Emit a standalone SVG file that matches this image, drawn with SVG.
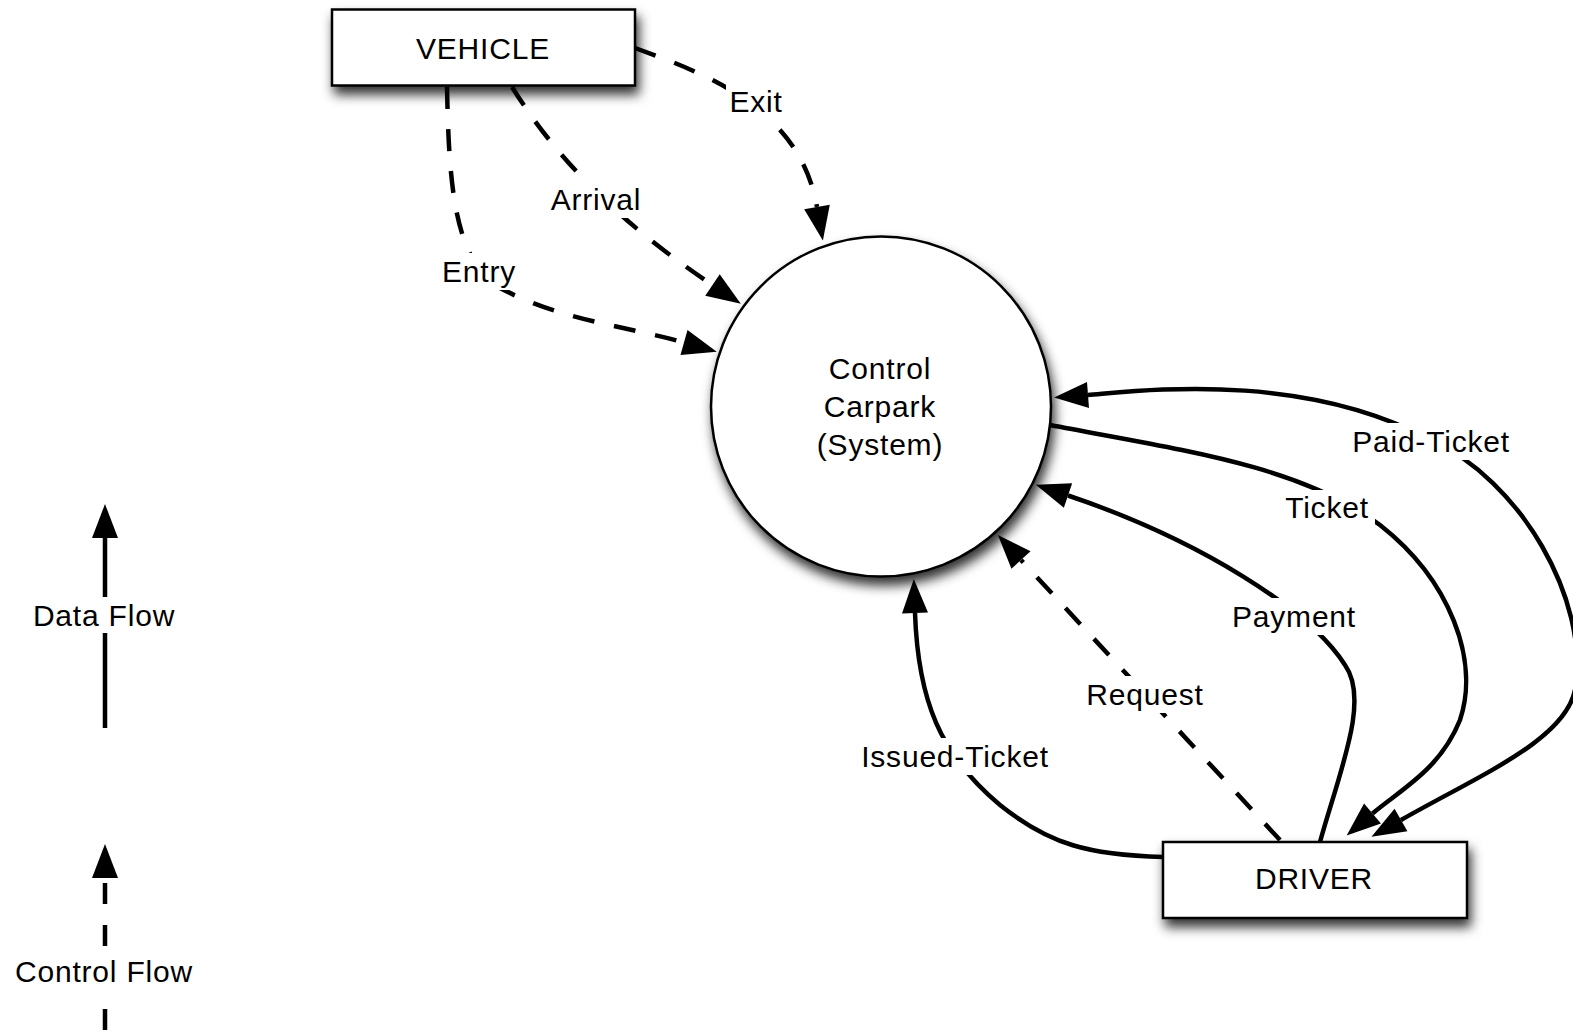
<svg xmlns="http://www.w3.org/2000/svg" width="1573" height="1034" viewBox="0 0 1573 1034">
<style>
  .node { fill: #ffffff; stroke: #000000; stroke-width: 2.5; }
  .t { font-family: "Liberation Sans", Arial, Helvetica, sans-serif; font-size: 30px; letter-spacing: 0.8px; fill: #000000; text-anchor: middle; }
  .flow { fill: none; stroke: #000000; stroke-width: 4.5; }
  .ctrl { stroke-dasharray: 22 20; }
  .data { marker-end: url(#arrow); }
  .bg { fill: #ffffff; stroke: none; }
</style>
<defs>
  <filter id="shadow" x="-20%" y="-20%" width="150%" height="170%">
    <feDropShadow dx="3" dy="8" stdDeviation="6" flood-color="#000000" flood-opacity="0.8"/>
  </filter>
  <marker id="arrow" markerUnits="userSpaceOnUse" markerWidth="36" markerHeight="28" refX="0" refY="13" orient="auto-start-reverse" overflow="visible">
    <path d="M0,0 L34,13 L0,26 Z" fill="#000000"/>
  </marker>
</defs>
<rect x="0" y="0" width="1573" height="1034" fill="#ffffff"/>

<g id="vehicle">
  <rect class="node" x="332" y="9.5" width="303" height="76" filter="url(#shadow)"/>
  <text class="t" x="483" y="59">VEHICLE</text>
</g>

<g id="system">
  <circle class="node" cx="881" cy="406.5" r="170" filter="url(#shadow)"/>
  <text class="t" x="880" y="379">Control</text>
  <text class="t" x="880" y="417">Carpark</text>
  <text class="t" x="880" y="455">(System)</text>
</g>

<g id="driver">
  <rect class="node" x="1163" y="842" width="304" height="76" filter="url(#shadow)"/>
  <text class="t" x="1314" y="889">DRIVER</text>
</g>

<g id="connectors">
  <!-- Exit -->
  <path class="flow ctrl" marker-end="url(#arrow)" d="M635 48 C710 75, 800 110, 817 207"/>
  <!-- Arrival -->
  <path class="flow ctrl" marker-end="url(#arrow)" d="M512 87 C545 140, 600 210, 712.5 285"/>
  <!-- Entry -->
  <path class="flow ctrl" marker-end="url(#arrow)" d="M447 87 C449 190, 455 260, 500 288 C560 320, 625 326, 684 342.5"/>
  <!-- Paid-Ticket -->
  <path class="flow" marker-start="url(#arrow)" marker-end="url(#arrow)" d="M1088 395 C1140 391, 1300 370, 1431 440 C1520 480, 1590 600, 1575 690 C1565 740, 1480 775, 1401 820"/>
  <!-- Ticket -->
  <path class="flow" marker-end="url(#arrow)" d="M1050 425 C1180 450, 1300 465, 1380 525 C1450 580, 1480 660, 1460 720 C1440 770, 1400 790, 1372.5 813.5"/>
  <!-- Payment -->
  <path class="flow" marker-end="url(#arrow)" d="M1320 842 C1340 770, 1370 700, 1345 665 C1310 610, 1200 540, 1068 495.5"/>
  <!-- Request -->
  <path class="flow ctrl" marker-end="url(#arrow)" d="M1280 840 L1021 560"/>
  <!-- Issued-Ticket -->
  <path class="flow" marker-end="url(#arrow)" d="M1163 857 C1090 855, 1050 845, 1000 805 C940 755, 918 700, 915 613"/>

  <g id="label-exit"><rect class="bg" x="726" y="85" width="60" height="36"/><text class="t" x="756" y="112">Exit</text></g>
  <g id="label-arrival"><rect class="bg" x="547" y="181" width="98" height="37"/><text class="t" x="596" y="210">Arrival</text></g>
  <g id="label-entry"><rect class="bg" x="439" y="253" width="80" height="37"/><text class="t" x="479" y="282">Entry</text></g>
  <g id="label-paid"><rect class="bg" x="1348" y="423" width="167" height="37"/><text class="t" x="1431" y="452">Paid-Ticket</text></g>
  <g id="label-ticket"><rect class="bg" x="1281" y="490" width="94" height="37"/><text class="t" x="1327" y="518">Ticket</text></g>
  <g id="label-payment"><rect class="bg" x="1229" y="598" width="131" height="37"/><text class="t" x="1294" y="627">Payment</text></g>
  <g id="label-request"><rect class="bg" x="1083" y="676" width="124" height="37"/><text class="t" x="1145" y="705">Request</text></g>
  <g id="label-issued"><rect class="bg" x="856" y="738" width="198" height="37"/><text class="t" x="955" y="767">Issued-Ticket</text></g>
</g>

<g id="legend">
  <path class="flow data" d="M105 728 L105 538"/>
  <rect class="bg" x="29" y="597" width="150" height="36"/>
  <text class="t" x="104" y="626">Data Flow</text>
  <path class="flow" stroke-dasharray="21 21" marker-end="url(#arrow)" d="M105 1030 L105 878"/>
  <rect class="bg" x="11" y="955" width="186" height="37"/>
  <text class="t" x="104" y="982">Control Flow</text>
</g>
</svg>
